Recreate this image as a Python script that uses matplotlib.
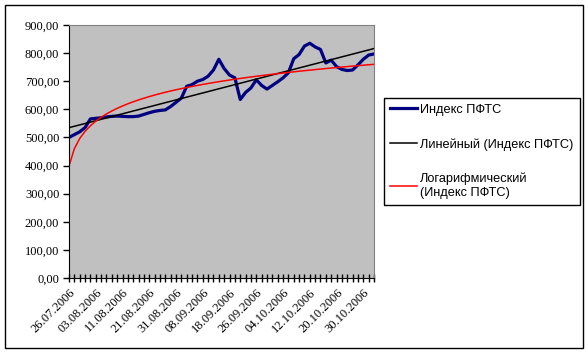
import numpy as np
import matplotlib.pyplot as plt
from matplotlib.patches import Rectangle

# Индекс ПФТС, daily closes
pfts = [500, 510, 520, 535, 566, 568, 570, 573, 575, 576,
        575, 574, 574, 576, 582, 588, 593, 596, 598, 610,
        625, 640, 682, 688, 700, 706, 718, 740, 778, 745,
        722, 712, 635, 660, 676, 705, 685, 672, 685, 698,
        712, 730, 780, 795, 825, 835, 822, 813, 765, 775,
        752, 742, 738, 740, 758, 778, 793, 797]
date_labels = ['26.07.2006', '03.08.2006', '11.08.2006', '21.08.2006',
               '31.08.2006', '08.09.2006', '18.09.2006', '26.09.2006',
               '04.10.2006', '12.10.2006', '20.10.2006', '30.10.2006']
y_ticks = [0, 100, 200, 300, 400, 500, 600, 700, 800, 900]
series_names = ['Индекс ПФТС', 'Линейный (Индекс ПФТС)',
                'Логарифмический\n(Индекс ПФТС)']

y = np.array(pfts, dtype=float)
idx = np.arange(len(y))
xx = idx + 1  # Excel trendlines use x = 1..N

# trendlines fitted to the series, as Excel does
k_lin, b_lin = np.polyfit(xx, y, 1)
k_log, b_log = np.polyfit(np.log(xx), y, 1)
lin = k_lin * xx + b_lin
logt = k_log * np.log(xx) + b_log

W, H = 588, 354
fig = plt.figure(figsize=(W / 100, H / 100), dpi=100)
fig.patch.set_facecolor('white')
fig.patches.append(Rectangle((5 / W, 1 - 348 / H), 578 / W, 343 / H,
                             transform=fig.transFigure, fill=False,
                             edgecolor='black', lw=1.0))

ax = fig.add_axes([69 / W, 1 - 278 / H, 305 / W, 253 / H])
ax.set_facecolor('#C0C0C0')

ax.plot(idx, y, color='#000080', lw=2.3, label=series_names[0],
        solid_joinstyle='round')
ax.plot(idx, lin, color='black', lw=1.1, label=series_names[1])
ax.plot(idx, logt, color='red', lw=1.1, label=series_names[2])

ax.set_xlim(0, len(y) - 1)
ax.set_ylim(0, 900)
ax.set_yticks(y_ticks)
ax.set_yticklabels(['%d,00' % v for v in y_ticks],
                   fontfamily='Liberation Serif', fontsize=9)
ax.set_xticks(idx[::5])
ax.set_xticklabels(date_labels, rotation=45, ha='right', va='top',
                   rotation_mode='anchor', fontfamily='Liberation Serif',
                   fontsize=9)
ax.set_xticks(idx, minor=True)
ax.tick_params(axis='y', direction='out', length=4, width=1, pad=3)
ax.tick_params(axis='x', which='both', direction='inout', length=6,
               width=1, pad=3)

for s in ['top', 'right']:
    ax.spines[s].set_color('#808080')
for s in ['left', 'bottom']:
    ax.spines[s].set_color('black')

leg = ax.legend(loc='upper left', bbox_to_anchor=(384 / W, 1 - 98 / H),
                bbox_transform=fig.transFigure, frameon=True,
                fancybox=False, edgecolor='black', framealpha=1,
                prop={'family': 'Liberation Sans', 'size': 9.2},
                handlelength=2.1, handletextpad=0.3, labelspacing=1.75,
                borderpad=0.45, borderaxespad=0)
leg.get_frame().set_linewidth(1.0)

fig.savefig('out.png', dpi=100)
